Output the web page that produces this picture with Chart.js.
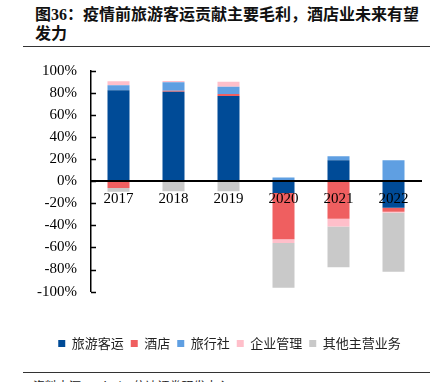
<!DOCTYPE html>
<html>
<head>
<meta charset="utf-8">
<script src="https://cdn.jsdelivr.net/npm/chart.js@4.4.1/dist/chart.umd.min.js"></script>
<style>
html,body{margin:0;padding:0;background:#fff;width:446px;height:382px;overflow:hidden;position:relative;}
#title{position:absolute;left:35px;top:5px;font-family:"Liberation Serif","Noto Sans CJK SC",serif;font-weight:bold;font-size:16px;line-height:19px;color:#111;white-space:nowrap;}
.rule{position:absolute;left:23px;width:407px;height:0;border-top:1.5px solid #333;}
#src{position:absolute;left:33px;top:377px;font-family:"Noto Sans CJK SC",sans-serif;font-size:12px;color:#222;white-space:nowrap;}
#wrap{position:absolute;left:0;top:0;width:446px;height:382px;}
</style>
</head>
<body>
<div id="title">图36：疫情前旅游客运贡献主要毛利，酒店业未来有望<br>发力</div>
<div class="rule" style="top:46px"></div>
<div class="rule" style="top:372px"></div>
<div id="src">资料来源：Wind，信达证券研发中心</div>
<div id="wrap"><canvas id="c" width="446" height="382"></canvas></div>
<script>
const categories = ['2017','2018','2019','2020','2021','2022'];
const seriesNames = ['旅游客运','酒店','旅行社','企业管理','其他主营业务'];
const passenger = [82.5, 81.2, 77.3, -10.6, 19, -24];
const hotel     = [-6, 1, 1.8, -42, -34, -3.5];
const travel    = [4.5, 7.6, 6.7, 3.5, 3.7, 19];
const corporate = [3.6, 1.2, 4.5, -3.4, -7, -1];
const others    = [-3.5, -9, -9, -40.6, -37, -53.6];
const yTicks = [-100,-80,-60,-40,-20,0,20,40,60,80,100];
const colors = ['#004B97','#EF5F60','#5F9FE2','#FFBFCA','#C9C9C9'];

const values = [passenger, hotel, travel, corporate, others];

const innerTicks = {
  id: 'innerTicks',
  afterLayout(chart) {
    if (chart.legend) { chart.legend.left += 12; chart.legend.right += 12; }
  },
  afterDraw(chart) {
    const y = chart.scales.y;
    const ctx = chart.ctx;
    ctx.save();
    ctx.strokeStyle = '#000';
    ctx.lineWidth = 1.5;
    yTicks.forEach(v => {
      const py = Math.round(y.getPixelForValue(v)) + 0.5;
      ctx.beginPath();
      ctx.moveTo(chart.chartArea.left, py);
      ctx.lineTo(chart.chartArea.left + 5, py);
      ctx.stroke();
    });
    ctx.restore();
  }
};

new Chart(document.getElementById('c'), {
  type: 'bar',
  data: {
    labels: categories,
    datasets: seriesNames.map((n, i) => ({
      label: n,
      data: values[i],
      backgroundColor: colors[i],
      borderWidth: 0,
      barPercentage: 0.4,
      categoryPercentage: 1
    }))
  },
  options: {
    responsive: false,
    animation: false,
    devicePixelRatio: 1,
    layout: { padding: { left: 14, right: 25, top: 71, bottom: 22 } },
    plugins: {
      tooltip: { enabled: false },
      legend: {
        position: 'bottom',
        title: { display: true, text: ' ', font: { size: 2 }, padding: { top: 36, bottom: 0 } },
        labels: {
          boxWidth: 7, boxHeight: 7, padding: 7,
          color: '#222',
          font: { family: '"Noto Sans CJK SC", sans-serif', size: 13 }
        }
      }
    },
    scales: {
      x: {
        stacked: true,
        position: { y: 0 },
        grid: { display: false, drawTicks: false },
        border: { display: true, color: '#000', width: 2, z: 1 },
        ticks: { z: 1, color: '#000', padding: 9, font: { family: '"Liberation Serif", serif', size: 15 } }
      },
      y: {
        stacked: true,
        min: -100, max: 100,
        afterFit(s) { s.width = 77; },
        afterBuildTicks(s) { s.ticks = yTicks.map(v => ({ value: v })); },
        grid: { display: false, drawTicks: false },
        border: { display: true, color: '#000', width: 1.5 },
        ticks: {
          color: '#000', padding: 14,
          font: { family: '"Liberation Serif", serif', size: 15 },
          callback: v => v + '%'
        }
      }
    }
  },
  plugins: [innerTicks]
});
</script>
</body>
</html>
